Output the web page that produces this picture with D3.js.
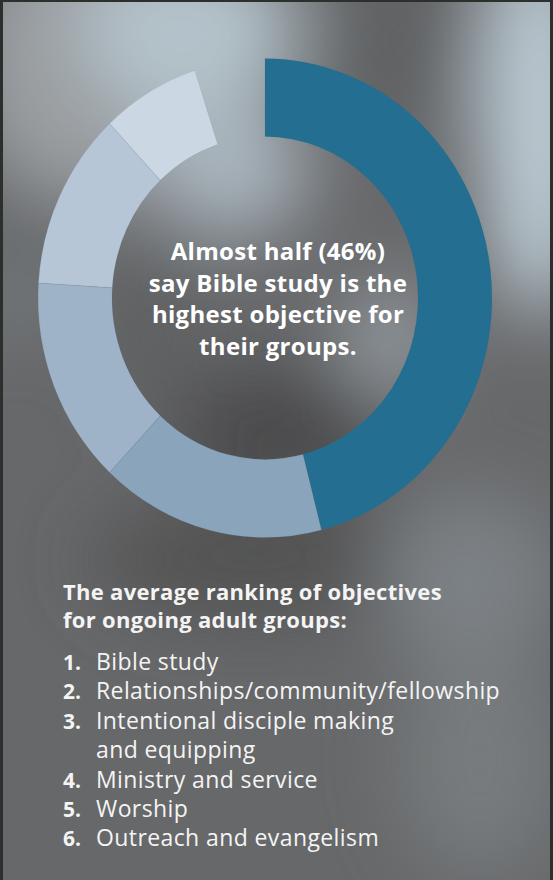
<!DOCTYPE html>
<html>
<head>
<meta charset="utf-8">
<script src="https://cdn.jsdelivr.net/npm/d3@7"></script>
<style>
  html, body { margin: 0; padding: 0; background: #2b302d; }
  svg { display: block; }
</style>
</head>
<body>
<div id="chart-area"></div>
<script>
var objectives = ['Bible study', 'Relationships/community/fellowship', 'Intentional disciple making and equipping',
	'Ministry and service', 'Worship', 'Outreach and evangelism'];
var shares = [46, 16, 14, 12, 7, 5];
var sliceColors = ['#236e91', '#8aa5bb', '#9fb3c8', '#b6c6d7', '#cbd7e3', 'none'];

// ranking list (text as printed, item 3 wraps onto two lines)
var rankNumbers = ['1.', '2.', '3.', '', '4.', '5.', '6.'];
var rankLines = ['Bible study', 'Relationships/community/fellowship', 'Intentional disciple making',
	'and equipping', 'Ministry and service', 'Worship', 'Outreach and evangelism'];

var headline = ['Almost half (46%)', 'say Bible study is the', 'highest objective for', 'their groups.'];
var subtitle = ['The average ranking of objectives', 'for ongoing adult groups:'];

var width = 553, height = 880;
var font = '"Open Sans", sans-serif';

var svg = d3.select('#chart-area')
	.append('svg')
		.attr('width', width)
		.attr('height', height);

var defs = svg.append('defs');
defs.append('filter')
	.attr('id', 'soft')
	.attr('x', '-50%').attr('y', '-50%').attr('width', '200%').attr('height', '200%')
	.append('feGaussianBlur')
		.attr('stdDeviation', 38);

defs.append('clipPath')
	.attr('id', 'panel')
	.append('rect')
		.attr('x', 3).attr('y', 2)
		.attr('width', 547).attr('height', 878);

// blurry photo backdrop
var bg = svg.append('g').attr('clip-path', 'url(#panel)');
bg.append('rect')
	.attr('x', 0).attr('y', 0)
	.attr('width', width).attr('height', height)
	.attr('fill', '#67686a');

var blobs = [
	{ cx: 80, cy: 60, rx: 120, ry: 150, c: '#9a9ea1' },
	{ cx: 190, cy: 30, rx: 110, ry: 90, c: '#b4c2ca' },
	{ cx: 400, cy: 40, rx: 70, ry: 90, c: '#606264' },
	{ cx: 540, cy: 120, rx: 60, ry: 200, c: '#bdccd5' },
	{ cx: 230, cy: 170, rx: 80, ry: 70, c: '#a8b4bc' },
	{ cx: 390, cy: 340, rx: 50, ry: 60, c: '#939a9f' },
	{ cx: 150, cy: 330, rx: 40, ry: 80, c: '#5d5f61' },
	{ cx: 280, cy: 430, rx: 110, ry: 60, c: '#4a4a4b' },
	{ cx: 250, cy: 560, rx: 160, ry: 60, c: '#525252' },
	{ cx: 470, cy: 580, rx: 90, ry: 90, c: '#7c8185' },
	{ cx: 20, cy: 290, rx: 30, ry: 40, c: '#7e868b' },
	{ cx: 30, cy: 230, rx: 30, ry: 40, c: '#5f6264' },
	{ cx: 480, cy: 760, rx: 80, ry: 120, c: '#777b7e' }
];
bg.append('g')
	.attr('filter', 'url(#soft)')
	.selectAll('ellipse')
	.data(blobs)
	.enter().append('ellipse')
		.attr('cx', d => d.cx)
		.attr('cy', d => d.cy)
		.attr('rx', d => d.rx)
		.attr('ry', d => d.ry)
		.attr('fill', d => d.c);

// donut (slightly taller than wide, like the original)
var pie = d3.pie().sort(null).value(d => d);
var arc = d3.arc().innerRadius(153).outerRadius(227);

var ring = svg.append('g')
	.attr('transform', 'translate(265, 298) scale(1, 1.055)');

ring.selectAll('path')
	.data(pie(shares))
	.enter().append('path')
		.attr('d', arc)
		.attr('fill', (d, i) => sliceColors[i])
		.attr('stroke', (d, i) => sliceColors[i] === 'none' ? 'none' : 'rgba(80,100,120,0.25)')
		.attr('stroke-width', 0.5);

// headline in the hole
svg.append('g')
	.selectAll('text')
	.data(headline)
	.enter().append('text')
		.attr('x', 278)
		.attr('y', (d, i) => 260 + i * 31.7)
		.attr('text-anchor', 'middle')
		.attr('font-family', font)
		.attr('font-weight', 700)
		.attr('font-size', '24px')
		.attr('letter-spacing', '0.3px')
		.attr('fill', '#ffffff')
		.text(d => d);

// subtitle
svg.append('g')
	.selectAll('text')
	.data(subtitle)
	.enter().append('text')
		.attr('x', 63)
		.attr('y', (d, i) => 600 + i * 28)
		.attr('font-family', font)
		.attr('font-weight', 700)
		.attr('font-size', '22px')
		.attr('letter-spacing', '0.3px')
		.attr('fill', '#f4f4f4')
		.text(d => d);

// numbered list
var rows = svg.append('g')
	.selectAll('g')
	.data(rankLines)
	.enter().append('g')
		.attr('transform', (d, i) => 'translate(0, ' + (670 + i * 29.4) + ')');

rows.append('text')
	.attr('x', 63)
	.attr('font-family', font)
	.attr('font-weight', 700)
	.attr('font-size', '21px')
	.attr('fill', '#f4f4f4')
	.text((d, i) => rankNumbers[i]);

rows.append('text')
	.attr('x', 96)
	.attr('font-family', font)
	.attr('font-weight', 400)
	.attr('font-size', '23px')
	.attr('letter-spacing', '0.4px')
	.attr('fill', '#f4f4f4')
	.text(d => d);
</script>
</body>
</html>
